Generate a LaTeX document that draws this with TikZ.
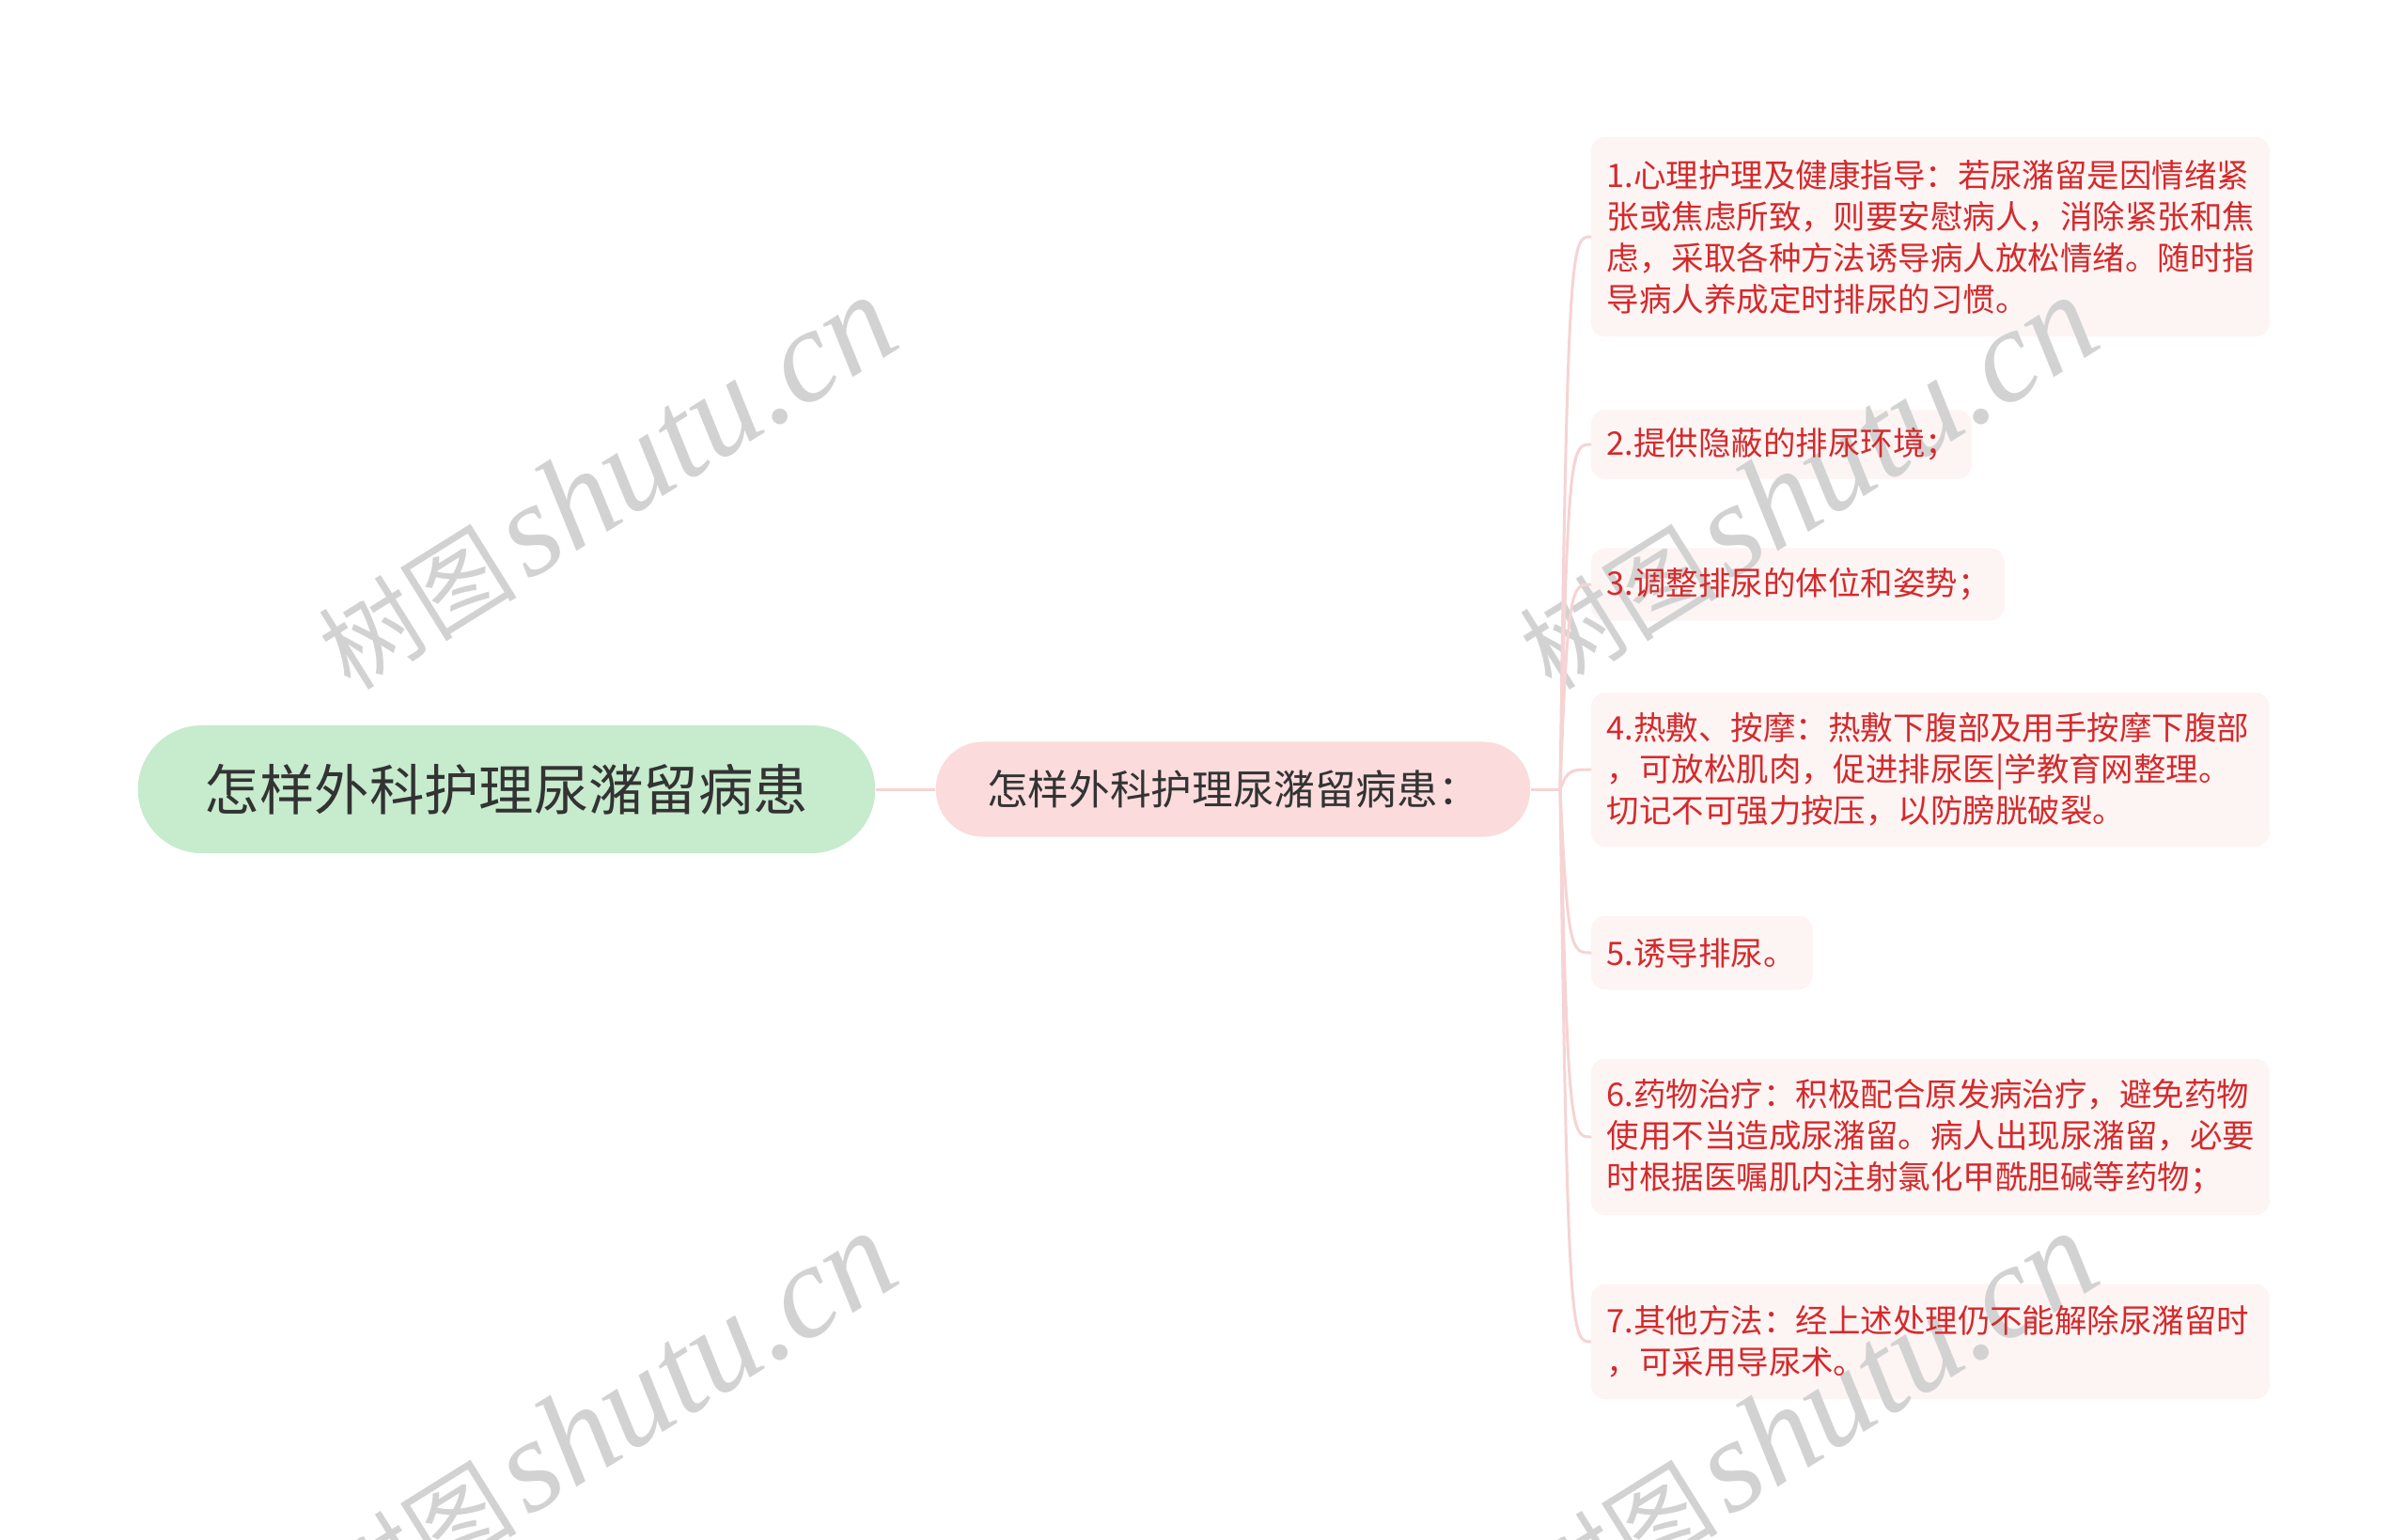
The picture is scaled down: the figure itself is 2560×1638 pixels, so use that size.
\documentclass[tikz,border=0pt]{standalone}
\usepackage{fontspec}
\newfontfamily\cjk{Noto Sans CJK SC}
\newfontfamily\wmserif{Liberation Serif}
\usetikzlibrary{calc}
\pgfdeclarelayer{bglayer}
\pgfdeclarelayer{wmlayer}
\pgfsetlayers{bglayer,wmlayer,main}
\definecolor{rootgreen}{HTML}{C7EBCD}
\definecolor{midpink}{HTML}{FBDBDC}
\definecolor{leaffill}{HTML}{FDF4F4}
\definecolor{connpink}{HTML}{F6D3D4}
\definecolor{leafred}{HTML}{D42A2C}
\definecolor{darktext}{HTML}{333333}
\definecolor{wmgray}{HTML}{D2D2D2}
\newcommand{\wmtext}{{\cjk\fontsize{30pt}{34pt}\selectfont 树图} {\wmserif\itshape\fontsize{40pt}{44pt}\selectfont shutu.cn}}
\begin{document}
\begin{tikzpicture}[x=0.01cm,y=-0.01cm,
  rootbox/.style={fill=rootgreen, rounded corners=0.68cm, minimum width=7.84cm, minimum height=1.36cm, inner sep=0pt, text=darktext, font=\cjk\fontsize{16.6pt}{20pt}\selectfont},
  midbox/.style={fill=midpink, rounded corners=0.5cm, minimum width=6.32cm, minimum height=1.01cm, inner sep=0pt, text=darktext, font=\cjk\fontsize{12.4pt}{15pt}\selectfont},
  leaf/.style={anchor=west, align=left, inner xsep=0.16cm, inner ysep=0pt, text=leafred, font=\cjk\fontsize{9.8pt}{12.5pt}\selectfont},
  leafbg/.style={fill=leaffill, rounded corners=0.15cm},
  conn/.style={draw=connpink, line width=0.03cm},
  wm/.style={text=wmgray, rotate=32, inner sep=0pt}
]
\useasboundingbox (0,0) rectangle (2560,1638);
\begin{pgfonlayer}{bglayer}
\fill[white] (0,0) rectangle (2560,1638);
\end{pgfonlayer}

\node[rootbox] (root) at (539,840) {怎样外科护理尿潴留病患};
\node[midbox] (mid) at (1312,840) {怎样外科护理尿潴留病患：};

\node[leaf, text width=6.88cm, minimum height=2.11cm] (l1) at (1693,252) {1.心理护理及健康指导：若尿潴留是因情绪紧\\张或焦虑所致，则要安慰病人，消除紧张和焦\\虑，采取各种方法诱导病人放松情绪。随时指\\导病人养成定时排尿的习惯。};
\node[leaf, text width=3.71cm, minimum height=0.72cm] (l2) at (1693,473) {2.提供隐蔽的排尿环境；};
\node[leaf, text width=4.06cm, minimum height=0.76cm] (l3) at (1693,622) {3.调整排尿的体位和姿势；};
\node[leaf, text width=6.88cm, minimum height=1.62cm] (l4) at (1693,819) {4.热敷、按摩：热敷下腹部及用手按摩下腹部\\，可放松肌肉，促进排尿医|学教育网整理。\\切记不可强力按压，以防膀胱破裂。};
\node[leaf, text width=2.02cm, minimum height=0.77cm] (l5) at (1693,1014) {5.诱导排尿。};
\node[leaf, text width=6.88cm, minimum height=1.65cm] (l6) at (1693,1210) {6.药物治疗：积极配合原发病治疗，避免药物\\使用不当造成尿潴留。病人出现尿潴留，必要\\时根据医嘱肌内注射氯化甲酰胆碱等药物；};
\node[leaf, text width=6.88cm, minimum height=1.21cm] (l7) at (1693,1428) {7.其他方法：经上述处理仍不能解除尿潴留时\\，可采用导尿术。};

\begin{pgfonlayer}{bglayer}
\foreach \n in {l1,l2,l3,l4,l5,l6,l7}{
  \fill[leafbg] (\n.north west) rectangle (\n.south east);
}
\end{pgfonlayer}

\coordinate (fork) at (1660,840);
\draw[conn] (root.east) -- (mid.west);
\draw[conn] (mid.east) -- (fork);
\foreach \n in {l1,l2,l3,l4,l5,l6,l7}{
  \draw[conn] (fork) .. controls ($(fork |- \n.west)+(8,0)$) and ($(fork |- \n.west)+(12,0)$) .. (\n.west);
}

\begin{pgfonlayer}{wmlayer}
\begin{scope}
\clip (0,0) rectangle (2560,1638);
\node[wm] (wm1) at (645,514) {\wmtext};
\node[wm] (wm2) at (1923,514) {\wmtext};
\node[wm] (wm3) at (645,1510) {\wmtext};
\node[wm] (wm4) at (1923,1510) {\wmtext};
\end{scope}
\end{pgfonlayer}
\end{tikzpicture}
\end{document}
